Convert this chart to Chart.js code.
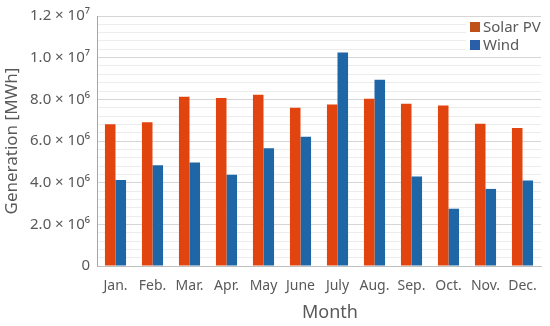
<!DOCTYPE html>
<html>
<head>
<meta charset="utf-8">
<script src="https://cdn.jsdelivr.net/npm/chart.js@4.4.1/dist/chart.umd.min.js"></script>
<style>
html,body{margin:0;padding:0;background:#fff;}
#wrap{width:550px;height:326px;}
</style>
</head>
<body>
<div id="wrap"><canvas id="c" width="550" height="326"></canvas></div>
<script>
const months = ['Jan.','Feb.','Mar.','Apr.','May','June','July','Aug.','Sep.','Oct.','Nov.','Dec.'];
const solarPV = [6.81e6, 6.90e6, 8.12e6, 8.06e6, 8.22e6, 7.60e6, 7.75e6, 8.03e6, 7.79e6, 7.70e6, 6.83e6, 6.63e6];
const wind    = [4.13e6, 4.84e6, 4.97e6, 4.38e6, 5.65e6, 6.20e6, 10.25e6, 8.94e6, 4.30e6, 2.75e6, 3.70e6, 4.10e6];
const yTickLabels = {0:'0', 2e6:'2.0 × 10⁶', 4e6:'4.0 × 10⁶', 6e6:'6.0 × 10⁶', 8e6:'8.0 × 10⁶', 1e7:'1.0 × 10⁷', 1.2e7:'1.2 × 10⁷'};
const seriesNames = ['Solar PV','Wind'];
const xTitle = 'Month';
const solarColor = '#e2440f';
const windColor = '#1f66a6';
const FONT = "'Noto Sans', sans-serif";

const legendPlugin = {
  id: 'boxLegend',
  afterDraw(chart) {
    const ctx = chart.ctx;
    ctx.save();
    ctx.fillStyle = '#ffffff';
    ctx.fillRect(466, 18, 78, 38);
    const items = [[seriesNames[0], '#c0501a', 27], [seriesNames[1], '#2b5ea8', 45]];
    ctx.font = "15px " + FONT;
    ctx.textBaseline = 'middle';
    items.forEach(([t, c, y]) => {
      ctx.fillStyle = c;
      ctx.fillRect(470, y - 5, 10, 10);
      ctx.fillStyle = '#595959';
      ctx.fillText(t, 483, y + 1);
    });
    ctx.font = "18px " + FONT;
    ctx.textAlign = 'center';
    ctx.fillText(xTitle, 330, 313);
    ctx.restore();
  }
};

new Chart(document.getElementById('c'), {
  type: 'bar',
  data: {
    labels: months,
    datasets: [
      {label: seriesNames[0], data: solarPV, backgroundColor: solarColor, categoryPercentage: 0.57, barPercentage: 1.0},
      {label: seriesNames[1], data: wind, backgroundColor: windColor, categoryPercentage: 0.57, barPercentage: 1.0}
    ]
  },
  options: {
    responsive: false,
    animation: false,
    devicePixelRatio: 1,
    layout: {padding: {top: 14, right: 9, left: 0, bottom: 0}},
    plugins: {legend: {display: false}, tooltip: {enabled: false}},
    scales: {
      x: {
        grid: {display: false, drawTicks: false},
        border: {display: true, color: '#bfbfbf'},
        ticks: {color: '#595959', font: {family: FONT, size: 14}, padding: 12, maxRotation: 0, minRotation: 0, autoSkip: false},
        title: {display: false},
        afterFit(scale) { scale.height = 60; }
      },
      y: {
        min: 0, max: 1.2e7,
        grid: {
          drawTicks: false,
          color: (ctx) => (ctx.tick && Math.abs(ctx.tick.value % 2e6) < 1) ? '#d6d6d6' : '#ececec'
        },
        border: {display: true, color: '#a6a6a6'},
        ticks: {
          stepSize: 4e5,
          autoSkip: false,
          color: '#595959',
          font: {family: FONT, size: 15},
          padding: 7,
          callback: (v) => yTickLabels[v] !== undefined ? yTickLabels[v] : ''
        },
        title: {display: true, text: 'Generation [MWh]', color: '#595959', font: {family: FONT, size: 17}, padding: {top: 2, bottom: 0}},
        afterFit(scale) { scale.width = 97; }
      }
    }
  },
  plugins: [legendPlugin]
});
</script>
</body>
</html>
